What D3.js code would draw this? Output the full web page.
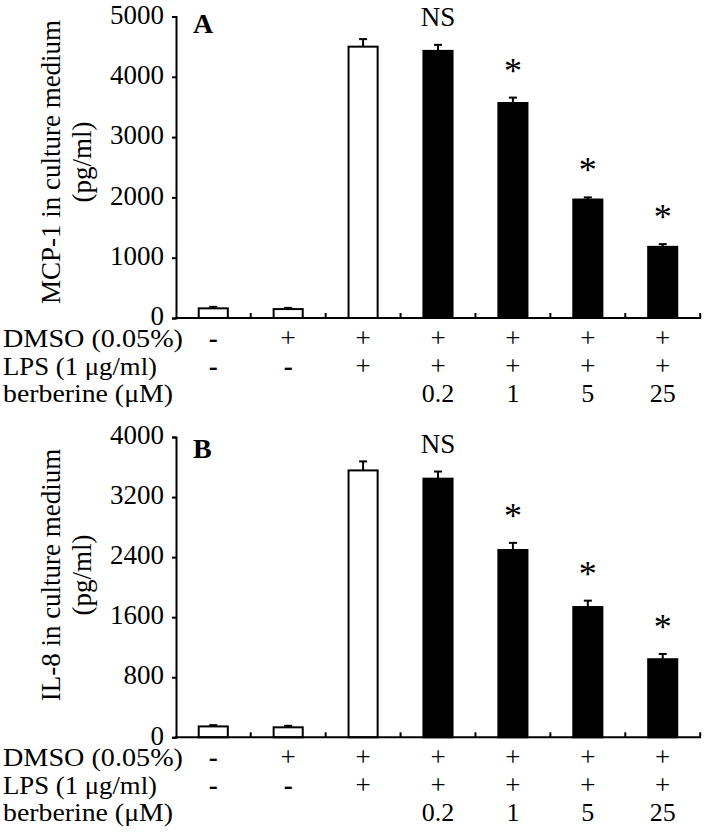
<!DOCTYPE html>
<html>
<head>
<meta charset="utf-8">
<script src="https://cdn.jsdelivr.net/npm/d3@7/dist/d3.min.js"></script>
<style>
  html, body { margin: 0; padding: 0; background: #fff; }
  svg { display: block; }
  text { font-family: "Liberation Serif", "Times New Roman", serif; fill: #000; }
</style>
</head>
<body>
<svg id="chart" width="708" height="839"></svg>
<script>
// ---- data ----
const categories = ["c1", "c2", "c3", "c4", "c5", "c6", "c7"];
const barFills = ["white", "white", "white", "black", "black", "black", "black"];
const mcpValues = [160, 148, 4500, 4430, 3565, 1965, 1180];
const mcpErrors = [25, 20, 125, 100, 90, 35, 45];
const il8Values = [145, 133, 3555, 3445, 2495, 1735, 1040];
const il8Errors = [17, 20, 120, 95, 95, 85, 70];
const mcpTicks = [0, 1000, 2000, 3000, 4000, 5000];
const il8Ticks = [0, 800, 1600, 2400, 3200, 4000];
const significance = ["", "", "", "NS", "*", "*", "*"];
const rowLabels = ["DMSO (0.05%)", "LPS (1 \u03bcg/ml)", "berberine (\u03bcM)"];
const rowLabelWidths = [180, 154, 170];
const dmsoRow = ["-", "+", "+", "+", "+", "+", "+"];
const lpsRow = ["-", "-", "+", "+", "+", "+", "+"];
const berberineRow = ["", "", "", "0.2", "1", "5", "25"];
const panelLetters = ["A", "B"];
const yTitles = ["MCP-1 in culture medium", "IL-8 in culture medium"];
const yUnit = "(pg/ml)";

// ---- layout ----
const svg = d3.select("#chart");
svg.append("rect").attr("width", 708).attr("height", 839).attr("fill", "#fff");
const FS = 27;
const TFS = 25;

const x = d3.scaleBand().domain(categories).range([176, 700]).paddingInner(0.585).paddingOuter(0.29);

const panels = [
  { values: mcpValues, errors: mcpErrors, ticks: mcpTicks, max: 5000, y0: 318, y1: 16.5, letterY: 33, titleC: 162 },
  { values: il8Values, errors: il8Errors, ticks: il8Ticks, max: 4000, y0: 737.3, y1: 437, letterY: 458, titleC: 575 }
];

panels.forEach((p, pi) => {
  const g = svg.append("g");
  const y = d3.scaleLinear().domain([0, p.max]).range([p.y0, p.y1]);

  // bars
  g.selectAll("rect.bar").data(categories).join("rect")
    .attr("class", "bar")
    .attr("x", d => x(d) + 1)
    .attr("width", x.bandwidth() - 2)
    .attr("y", (d, i) => y(p.values[i]))
    .attr("height", (d, i) => y(0) - y(p.values[i]))
    .attr("fill", (d, i) => barFills[i])
    .attr("stroke", "#000")
    .attr("stroke-width", 2);

  // error bars (upper only)
  categories.forEach((c, i) => {
    const cx = x(c) + x.bandwidth() / 2;
    const top = y(p.values[i] + p.errors[i]);
    g.append("line").attr("x1", cx).attr("x2", cx)
      .attr("y1", y(p.values[i])).attr("y2", top)
      .attr("stroke", "#000").attr("stroke-width", 2);
    g.append("line").attr("x1", cx - 4).attr("x2", cx + 4)
      .attr("y1", top).attr("y2", top)
      .attr("stroke", "#000").attr("stroke-width", 2);
    const s = significance[i];
    if (s === "NS") {
      g.append("text").attr("x", cx).attr("y", top - 19)
        .attr("text-anchor", "middle").attr("font-size", FS).text(s);
    } else if (s) {
      g.append("text").attr("x", cx).attr("y", top - 15)
        .attr("text-anchor", "middle").attr("font-size", 36)
        .text(s);
    }
  });

  // y axis
  const yAxis = d3.axisLeft(y).tickValues(p.ticks).tickSize(4).tickPadding(8).tickFormat(d3.format("d"));
  const ya = g.append("g").attr("transform", "translate(176,0)").call(yAxis);
  ya.select(".domain").attr("stroke-width", 2);
  ya.selectAll(".tick line").attr("stroke-width", 2);
  ya.selectAll(".tick text")
    .attr("font-size", FS)
    .attr("font-family", "Liberation Serif, Times New Roman, serif")
    .attr("dy", "0.25em");

  // x axis line with ticks at band boundaries (inward)
  g.append("line").attr("x1", 175).attr("x2", 701).attr("y1", p.y0).attr("y2", p.y0)
    .attr("stroke", "#000").attr("stroke-width", 2);
  categories.forEach((c, i) => {
    const bx = x(c) + x.bandwidth() + x.step() * x.paddingInner() / 2;
    g.append("line").attr("x1", bx).attr("x2", bx).attr("y1", p.y0).attr("y2", p.y0 - 5)
      .attr("stroke", "#000").attr("stroke-width", 2);
  });

  // panel letter
  g.append("text").attr("x", 193).attr("y", p.letterY)
    .attr("font-size", 28).attr("font-weight", "bold").text(panelLetters[pi]);

  // y title
  const tg = g.append("g").attr("transform", `translate(0,${p.titleC}) rotate(-90)`);
  tg.append("text").attr("x", 0).attr("y", 60).attr("text-anchor", "middle")
    .attr("font-size", FS).text(yTitles[pi]);
  tg.append("text").attr("x", 0).attr("y", 91).attr("text-anchor", "middle")
    .attr("font-size", FS).text(yUnit);

  // treatment table
  const rows = [dmsoRow, lpsRow, berberineRow];
  rows.forEach((row, ri) => {
    const by = p.y0 + 29 + ri * 27.5;
    g.append("text").attr("x", 3).attr("y", by).attr("font-size", TFS)
      .attr("textLength", rowLabelWidths[ri]).attr("lengthAdjust", "spacingAndGlyphs")
      .text(rowLabels[ri]);
    row.forEach((v, ci) => {
      if (!v) return;
      const isSign = v === "-" || v === "+";
      g.append("text")
        .attr("x", x(categories[ci]) + x.bandwidth() / 2)
        .attr("y", by)
        .attr("text-anchor", "middle")
        .attr("font-size", isSign ? 27 : TFS + 1)
        .attr("font-weight", v === "-" ? "bold" : "normal")
        .text(v);
    });
  });
});
</script>
</body>
</html>
